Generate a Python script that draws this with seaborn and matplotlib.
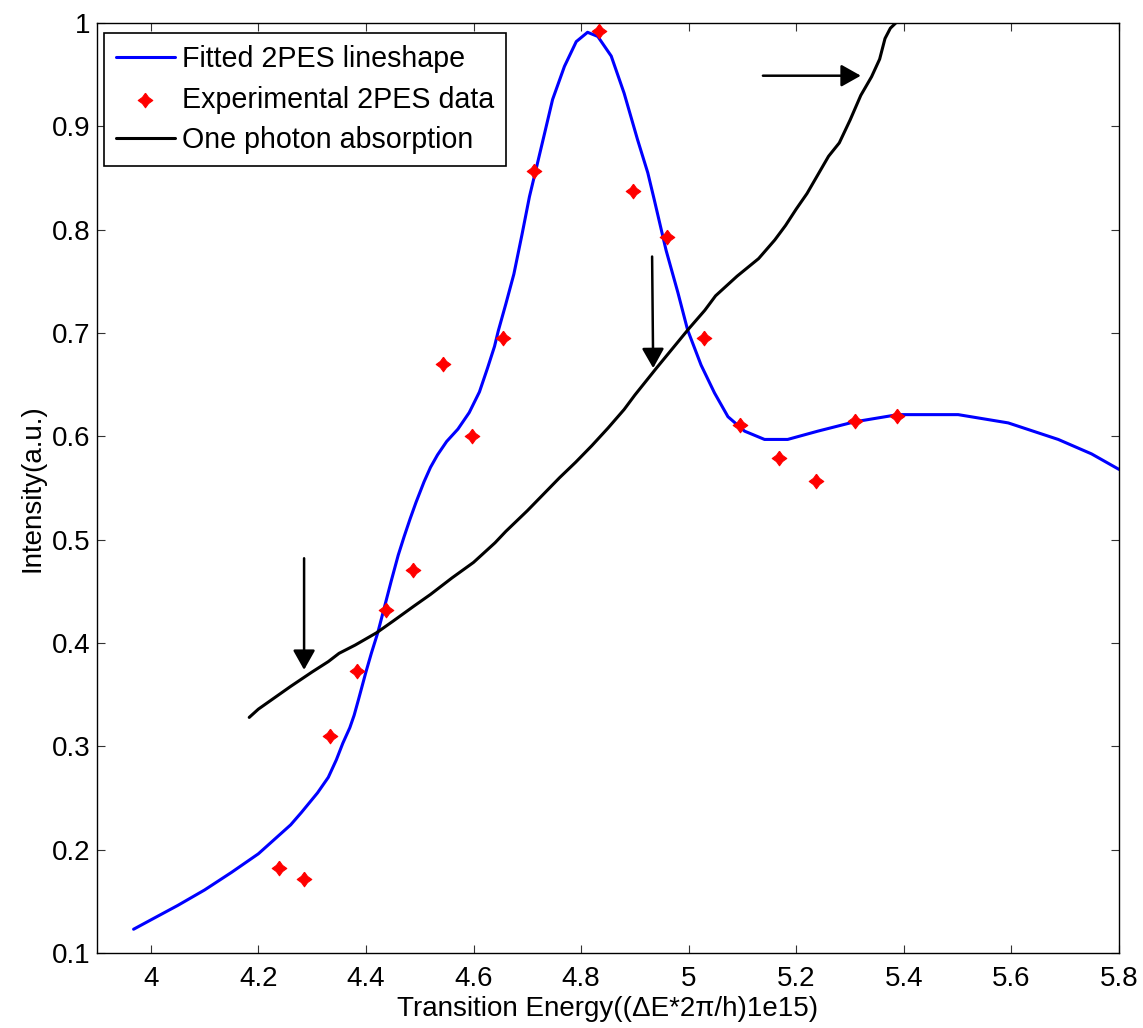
import matplotlib
matplotlib.use("Agg")
import matplotlib.pyplot as plt
import seaborn as sns
import pandas as pd
from matplotlib.ticker import FuncFormatter

# ---------------- data ----------------
fit_x = [3.968, 4.00, 4.05, 4.10, 4.15, 4.20, 4.23, 4.26, 4.28, 4.31, 4.33, 4.345,
         4.357, 4.37, 4.378, 4.386, 4.40, 4.41, 4.422, 4.437, 4.447, 4.46, 4.471,
         4.482, 4.493, 4.508, 4.52, 4.533, 4.55, 4.571, 4.592, 4.611, 4.626, 4.639,
         4.646, 4.66, 4.675, 4.69, 4.704, 4.716, 4.732, 4.747, 4.769, 4.791, 4.812,
         4.831, 4.856, 4.880, 4.905, 4.924, 4.936, 4.958, 4.980, 4.998, 5.023, 5.048,
         5.073, 5.104, 5.141, 5.184, 5.240, 5.308, 5.389, 5.501, 5.594, 5.687, 5.749,
         5.800]
fit_y = [0.123, 0.132, 0.146, 0.161, 0.178, 0.196, 0.210, 0.224, 0.236, 0.255, 0.270,
         0.287, 0.303, 0.318, 0.330, 0.345, 0.372, 0.390, 0.410, 0.440, 0.460, 0.485,
         0.503, 0.520, 0.536, 0.556, 0.570, 0.582, 0.595, 0.607, 0.623, 0.643, 0.666,
         0.687, 0.702, 0.728, 0.757, 0.795, 0.832, 0.858, 0.893, 0.926, 0.958, 0.982,
         0.991, 0.987, 0.968, 0.932, 0.887, 0.855, 0.829, 0.780, 0.739, 0.703, 0.669,
         0.642, 0.619, 0.605, 0.597, 0.597, 0.605, 0.614, 0.621, 0.621, 0.613, 0.597,
         0.583, 0.568]

exp_x = [4.238, 4.285, 4.333, 4.383, 4.437, 4.488, 4.544, 4.597, 4.654, 4.712,
         4.833, 4.897, 4.960, 5.028, 5.096, 5.167, 5.237, 5.310, 5.387]
exp_y = [0.182, 0.172, 0.310, 0.373, 0.432, 0.471, 0.670, 0.600, 0.695, 0.857,
         0.992, 0.837, 0.793, 0.695, 0.611, 0.579, 0.557, 0.615, 0.620]

abs_x = [4.183, 4.20, 4.23, 4.26, 4.28, 4.30, 4.33, 4.35, 4.38, 4.42, 4.45, 4.49,
         4.52, 4.56, 4.60, 4.64, 4.66, 4.70, 4.73, 4.76, 4.79, 4.82, 4.85, 4.88,
         4.90, 4.94, 4.97, 5.00, 5.03, 5.05, 5.09, 5.13, 5.16, 5.18, 5.20, 5.22,
         5.24, 5.26, 5.28, 5.30, 5.32, 5.34, 5.355, 5.365, 5.375, 5.385]
abs_y = [0.328, 0.336, 0.347, 0.358, 0.365, 0.372, 0.382, 0.390, 0.398, 0.410,
         0.421, 0.436, 0.447, 0.463, 0.478, 0.497, 0.508, 0.528, 0.544, 0.560,
         0.575, 0.591, 0.608, 0.626, 0.640, 0.666, 0.685, 0.704, 0.722, 0.736,
         0.755, 0.772, 0.790, 0.804, 0.820, 0.835, 0.853, 0.871, 0.884, 0.906,
         0.930, 0.948, 0.965, 0.985, 0.995, 1.000]

# arrows: (tail_x, tail_y, tip_x, tip_y)
arrows = [(4.285, 0.482, 4.285, 0.374),
          (4.932, 0.774, 4.934, 0.666),
          (5.138, 0.949, 5.320, 0.949)]

labels = ["Fitted 2PES lineshape", "Experimental 2PES data", "One photon absorption"]
x_ticks = [4.0, 4.2, 4.4, 4.6, 4.8, 5.0, 5.2, 5.4, 5.6, 5.8]
y_ticks = [0.1, 0.2, 0.3, 0.4, 0.5, 0.6, 0.7, 0.8, 0.9, 1.0]
x_label = "Transition Energy((ΔE*2π/h)1e15)"
y_label = "Intensity(a.u.)"

# ---------------- style ----------------
sns.set_theme(style="white")
plt.rcParams["font.family"] = ["Liberation Sans", "DejaVu Sans"]
FS = 20

fig = plt.figure(figsize=(11.43, 10.28), dpi=100)
W, H = 1143, 1028
ax = fig.add_axes([97 / W, 1 - 953 / H, (1119 - 97) / W, (953 - 23) / H])

fit_df = pd.DataFrame({"x": fit_x, "y": fit_y})
exp_df = pd.DataFrame({"x": exp_x, "y": exp_y})
abs_df = pd.DataFrame({"x": abs_x, "y": abs_y})

star = [(0, 1), (0.42, 0.42), (1, 0), (0.42, -0.42), (0, -1),
        (-0.42, -0.42), (-1, 0), (-0.42, 0.42), (0, 1)]

sns.lineplot(data=fit_df, x="x", y="y", ax=ax, color="#0000FF", lw=2.2,
             sort=False, estimator=None, label=labels[0])
sns.scatterplot(data=exp_df, x="x", y="y", ax=ax, color="#FF0000",
                marker=star, s=110, edgecolor="#FF0000", linewidth=0.8,
                label=labels[1], zorder=5)
sns.lineplot(data=abs_df, x="x", y="y", ax=ax, color="black", lw=2.2,
             sort=False, estimator=None, label=labels[2])

for tx, ty, hx, hy in arrows:
    ax.annotate("", xy=(hx, hy), xytext=(tx, ty),
                arrowprops=dict(arrowstyle="-|>,head_length=0.8,head_width=0.45",
                                color="black", lw=1.8, mutation_scale=15,
                                shrinkA=0, shrinkB=0))

ax.set_xlim(3.9, 5.8)
ax.set_ylim(0.1, 1.0)
ax.set_xticks(x_ticks)
ax.set_yticks(y_ticks)
fmt = FuncFormatter(lambda v, p: ("%g" % round(v, 3)))
ax.xaxis.set_major_formatter(fmt)
ax.yaxis.set_major_formatter(fmt)
ax.tick_params(direction="in", length=6, width=0.8, color="#333333",
               top=True, right=True, bottom=True, left=True,
               labelsize=FS, labelcolor="black")
ax.tick_params(axis="x", pad=9)
ax.tick_params(axis="y", pad=5)
for sp in ax.spines.values():
    sp.set_color("black")
    sp.set_linewidth(1.0)

ax.set_xlabel(x_label, fontsize=FS, labelpad=3, color="black")
ax.set_ylabel(y_label, fontsize=FS, labelpad=4, color="black")

leg = ax.legend(loc="upper left", bbox_to_anchor=((104 - 97) / 1022, (953 - 33) / 930),
                borderaxespad=0, fontsize=20.6, frameon=True, fancybox=False,
                framealpha=1, edgecolor="black", handlelength=2.05,
                handletextpad=0.25, labelspacing=0.44, borderpad=0.42,
                scatterpoints=1)
leg.get_frame().set_linewidth(1.2)
for t in leg.get_texts():
    t.set_color("black")

fig.savefig("out.png", dpi=100)
